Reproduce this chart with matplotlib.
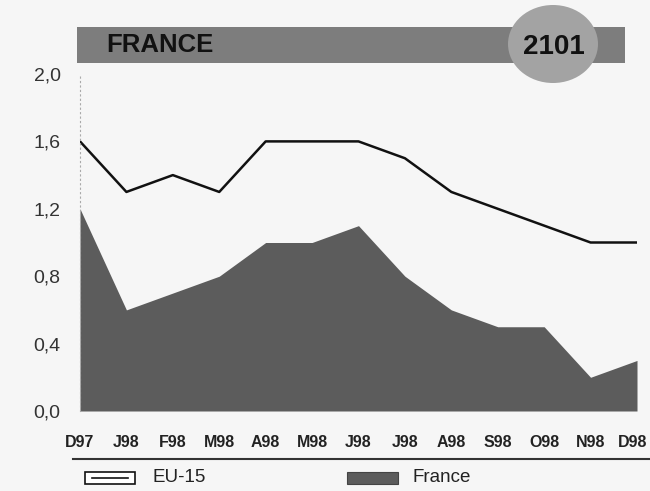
import matplotlib.pyplot as plt
from matplotlib.patches import Rectangle, Ellipse
from matplotlib.lines import Line2D
from matplotlib.transforms import ScaledTranslation

months = ['D97', 'J98', 'F98', 'M98', 'A98', 'M98', 'J98',
          'J98', 'A98', 'S98', 'O98', 'N98', 'D98']
eu15 = [1.6, 1.3, 1.4, 1.3, 1.6, 1.6, 1.6, 1.5, 1.3, 1.2, 1.1, 1.0, 1.0]
france = [1.2, 0.6, 0.7, 0.8, 1.0, 1.0, 1.1, 0.8, 0.6, 0.5, 0.5, 0.2, 0.3]
yticks = [0.0, 0.4, 0.8, 1.2, 1.6, 2.0]

W, H = 650, 491
bg = '#f6f6f6'
plt.rcParams['font.family'] = ['Liberation Sans', 'DejaVu Sans']

fig = plt.figure(figsize=(W / 100, H / 100), dpi=100, facecolor=bg)


def fx(px):
    return px / W


def fy(py):
    return 1 - py / H


ax = fig.add_axes([fx(80), fy(411), fx(637) - fx(80), fy(74) - fy(411)])
ax.set_facecolor(bg)

x = list(range(len(months)))
ax.fill_between(x, france, 0, color='#5c5c5c', lw=0)
ax.plot(x, eu15, color='#111111', lw=1.8)

ax.set_xlim(0, len(months) - 1)
ax.set_ylim(0, 2.0)
ax.set_yticks(yticks)
ax.set_yticklabels([f'{v:.1f}'.replace('.', ',') for v in yticks],
                   fontsize=14, color='#333333')
ax.set_xticks(x)
ax.set_xticklabels(months, fontsize=11.5, fontweight='bold', color='#222222')
ax.tick_params(axis='both', length=0)
ax.tick_params(axis='x', pad=17)
ax.tick_params(axis='y', pad=14)

# keep the last month label inside the figure edge
last = ax.get_xticklabels()[-1]
last.set_transform(last.get_transform() + ScaledTranslation(-0.04, 0, fig.dpi_scale_trans))

for s in ['top', 'right', 'bottom']:
    ax.spines[s].set_visible(False)
ax.spines['left'].set_color('#aaaaaa')
ax.spines['left'].set_linestyle((0, (1, 3)))
ax.spines['left'].set_linewidth(0.8)

# title banner with the badge
fig.patches.append(Rectangle((fx(77), fy(63)), fx(625) - fx(77), fy(27) - fy(63),
                             transform=fig.transFigure, color='#7d7d7d', lw=0))
fig.patches.append(Ellipse((fx(553), fy(44)), fx(90), 78 / H,
                           transform=fig.transFigure, color='#a3a3a3', lw=0))
fig.text(fx(106), fy(45), 'FRANCE', fontsize=18.5, fontweight='bold',
         color='#111111', va='center', ha='left')
fig.text(fx(554), fy(47), '2101', fontsize=20, fontweight='bold',
         color='#111111', va='center', ha='center')

# rule and legend below the chart
fig.lines.append(Line2D([fx(73), fx(650)], [fy(459), fy(459)],
                        transform=fig.transFigure, color='#333333', lw=1.5))
fig.patches.append(Rectangle((fx(85), fy(484)), fx(50), 12 / H,
                             transform=fig.transFigure, facecolor='white',
                             edgecolor='#111111', lw=1.2))
fig.lines.append(Line2D([fx(92), fx(128)], [fy(478), fy(478)],
                        transform=fig.transFigure, color='#111111', lw=1.2))
fig.text(fx(152), fy(477), 'EU-15', fontsize=13.5, color='#222222', va='center')
fig.patches.append(Rectangle((fx(347), fy(484)), fx(51), 12 / H,
                             transform=fig.transFigure, facecolor='#5c5c5c',
                             edgecolor='#444444', lw=0.8))
fig.text(fx(412), fy(477), 'France', fontsize=13.5, color='#222222', va='center')

fig.savefig('out.png', dpi=100, facecolor=bg)
